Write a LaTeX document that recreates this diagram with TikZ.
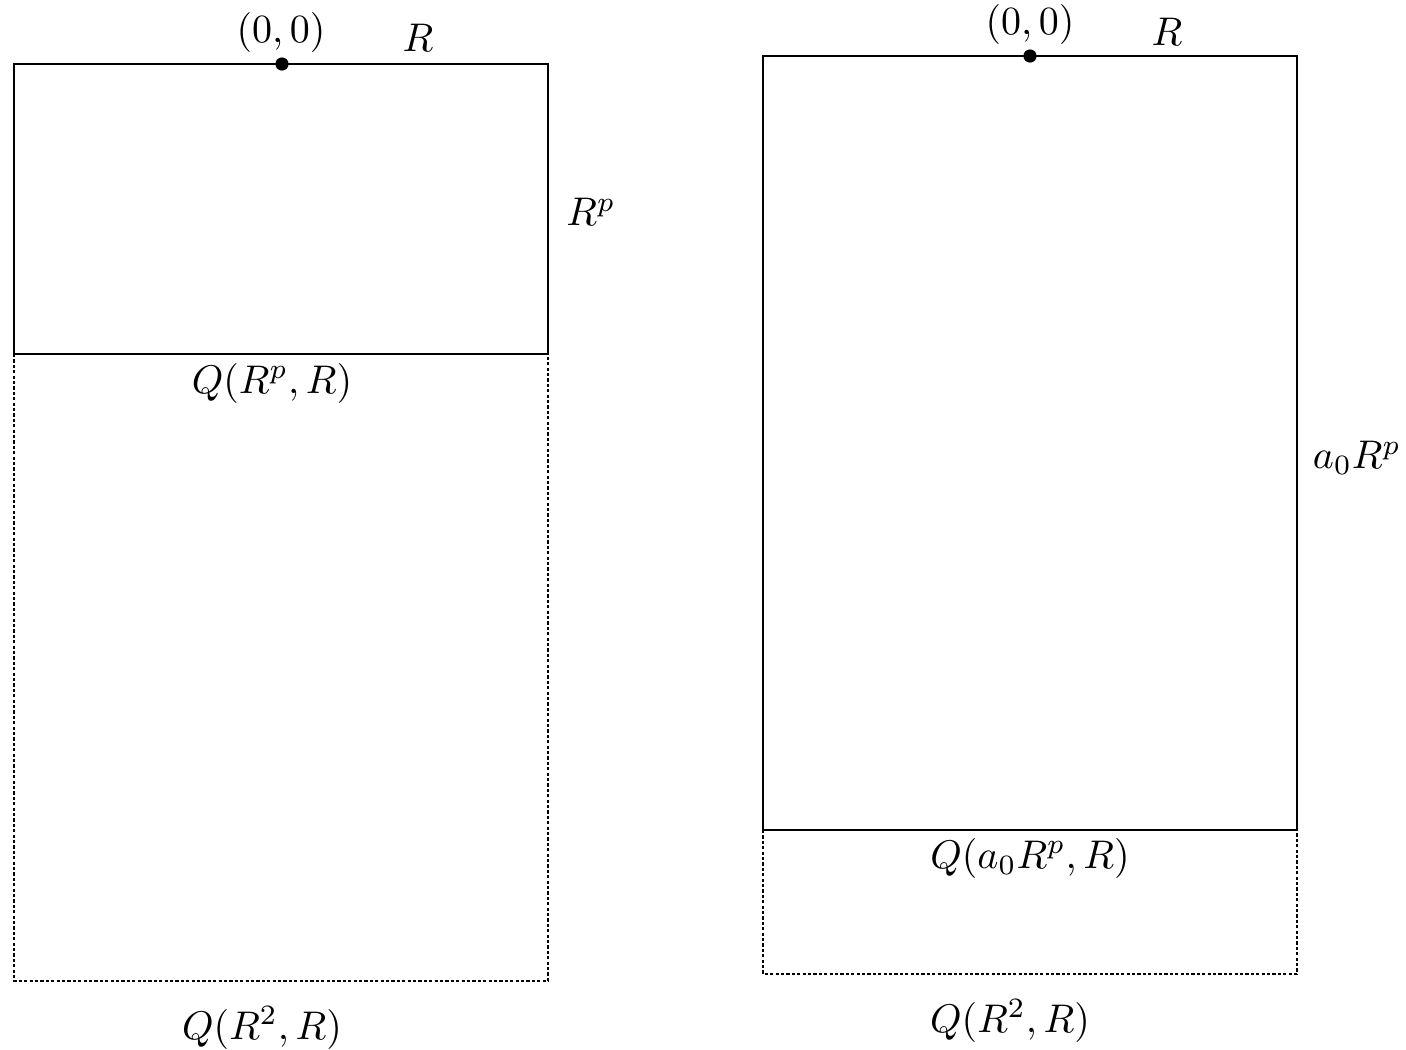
\documentclass[tikz,border=0pt]{standalone}
\begin{document}
\begin{tikzpicture}[x=0.25pt,y=-0.25pt,
  box/.style={line width=0.45pt},
  ext/.style={line width=0.4pt,dash pattern=on 0.8pt off 0.55pt},
  lab/.style={inner sep=0pt},
  pt/.style={circle,fill=black,inner sep=0pt,minimum size=3.3pt}]
\useasboundingbox (0,0) rectangle (1406,1050);
% left
\coordinate (LA) at (14,64);
\coordinate (LB) at (548,354);
\coordinate (LC) at (14,354);
\coordinate (LD) at (548,981);
\draw[ext] (LC) -- (14,981) -- (LD) -- (548,354);
\draw[box] (LA) rectangle (LB);
\node[pt] (Lo) at (282,64) {};
\node[lab] (Lol) at (281,32) {$(0,0)$};
\node[lab] (LR) at (418,38) {$R$};
\node[lab] (LRp) at (591,212) {$R^p$};
\node[lab] (LQ1) at (272,383) {$Q(R^p,R)$};
\node[lab] (LQ2) at (262,1028) {$Q(R^2,R)$};
% right
\coordinate (RA) at (763,56);
\coordinate (RB) at (1297,830);
\coordinate (RC) at (763,830);
\coordinate (RD) at (1297,974);
\draw[ext] (RC) -- (763,974) -- (RD) -- (1297,830);
\draw[box] (RA) rectangle (RB);
\node[pt] (Ro) at (1030,56) {};
\node[lab] (Rol) at (1030,24) {$(0,0)$};
\node[lab] (RR) at (1167,32) {$R$};
\node[lab] (RRp) at (1357,458) {$a_0R^p$};
\node[lab] (RQ1) at (1030,858) {$Q(a_0R^p,R)$};
\node[lab] (RQ2) at (1010,1021) {$Q(R^2,R)$};
\end{tikzpicture}
\end{document}
